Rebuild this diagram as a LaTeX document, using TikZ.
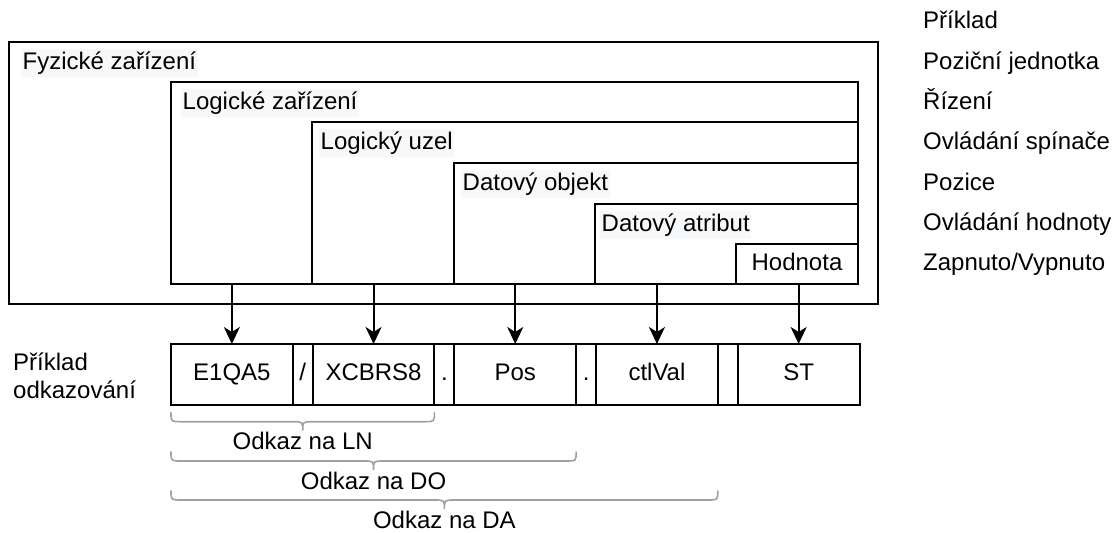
\documentclass[tikz,border=0pt]{standalone}
\usepackage{fontspec}
\setmainfont{Liberation Sans}
\usetikzlibrary{positioning, calc, arrows.meta}

\definecolor{lblgray}{RGB}{247,248,250}
\definecolor{bracegray}{RGB}{160,160,160}

\tikzset{
  box/.style={draw, line width=2pt, anchor=north west, inner sep=0pt, outer sep=0pt, text height=17pt, text depth=5pt},
  lbl/.style={anchor=west, fill=lblgray, inner xsep=1.5pt, inner ysep=3pt, text height=17pt, text depth=5pt},
  rtext/.style={anchor=west, inner sep=0pt, text height=17pt, text depth=5pt},
  cell/.style={draw, line width=2pt, minimum height=61pt, minimum width=121.7pt, inner sep=0pt, outer sep=0pt, text height=17pt, text depth=5pt},
  sepcell/.style={cell, minimum width=20pt},
  arr/.style={line width=2pt, -{Stealth[length=17pt, width=16pt, inset=5pt]}},
  bracepath/.style={draw=bracegray, line width=1.6pt, line cap=round},
}

\newcommand{\refbrace}[5]{%
  \coordinate (#5a) at ($(#1.south west)+(0,#3)$);
  \coordinate (#5b) at ($(#2.south east)+(0,#3)$);
  \coordinate (#5m) at ($(#5a)!0.5!(#5b)$);
  \draw[bracepath] (#5a) .. controls ($(#5a)+(0,9)$) .. ($(#5a)+(10,9)$)
    -- ($(#5m)+(-10,9)$) .. controls ($(#5m)+(0,9)$) .. ($(#5m)+(0,18)$)
    .. controls ($(#5m)+(0,9)$) .. ($(#5m)+(10,9)$)
    -- ($(#5b)+(-10,9)$) .. controls ($(#5b)+(0,9)$) .. (#5b);
  \node[inner sep=0pt] (#5t) at ($(#5m)+(0,28.5)$) {#4};
}

\begin{document}
\begin{tikzpicture}[x=1pt, y=-1pt, font=\fontsize{24}{28}\selectfont]
    \useasboundingbox (0,0) rectangle (1120,533);

    \node[box, minimum width=869pt, minimum height=262pt] (fz) at (9,42) {};
    \node[box, minimum width=687pt, minimum height=202pt] (ld) at (171,82) {};
    \node[box, minimum width=546pt, minimum height=162pt] (lu) at (312,122) {};
    \node[box, minimum width=404pt, minimum height=121pt] (do) at (454,163) {};
    \node[box, minimum width=263pt, minimum height=80pt] (da) at (595,204) {};
    \node[box, minimum width=122pt, minimum height=40pt] (hod) at (736,244) {Hodnota};

    \node[lbl] (fzl) at ($(fz.north west)+(12,21)$) {Fyzické zařízení};
    \node[lbl] (ldl) at ($(ld.north west)+(10,21)$) {Logické zařízení};
    \node[lbl] (lul) at ($(lu.north west)+(7,21)$) {Logický uzel};
    \node[lbl] (dol) at ($(do.north west)+(7,21)$) {Datový objekt};
    \node[lbl] (dal) at ($(da.north west)+(5,21)$) {Datový atribut};

    \node[rtext] (r0) at (923,22) {Příklad};
    \node[rtext] (r1) at (923,63) {Poziční jednotka};
    \node[rtext] (r2) at (923,103) {Řízení};
    \node[rtext] (r3) at (923,143) {Ovládání spínače};
    \node[rtext] (r4) at (923,184) {Pozice};
    \node[rtext] (r5) at (923,224) {Ovládání hodnoty};
    \node[rtext] (r6) at (923,264) {Zapnuto/Vypnuto};

    \node[anchor=west, align=left, inner sep=0pt] (prk) at (13,376) {Příklad\\odkazování};

    \node[cell] (e1qa5) at (231.85,374.5) {E1QA5};
    \node[sepcell, right=0pt of e1qa5] (s1) {/};
    \node[cell, right=0pt of s1] (xcb) {XCBRS8};
    \node[sepcell, right=0pt of xcb] (s2) {.};
    \node[cell, right=0pt of s2] (pos) {Pos};
    \node[sepcell, right=0pt of pos] (s3) {.};
    \node[cell, right=0pt of s3] (ctl) {ctlVal};
    \node[sepcell, right=0pt of ctl] (s4) {};
    \node[cell, right=0pt of s4] (st) {ST};

    \draw[arr] (e1qa5.north |- ld.south) -- (e1qa5.north);
    \draw[arr] (xcb.north |- lu.south) -- (xcb.north);
    \draw[arr] (pos.north |- do.south) -- (pos.north);
    \draw[arr] (ctl.north |- da.south) -- (ctl.north);
    \draw[arr] (st.north |- hod.south) -- (st.north);

    \refbrace{e1qa5}{xcb}{7.7}{Odkaz na LN}{ln}
    \refbrace{e1qa5}{pos}{47}{Odkaz na DO}{dob}
    \refbrace{e1qa5}{ctl}{86}{Odkaz na DA}{dab}
\end{tikzpicture}
\end{document}
